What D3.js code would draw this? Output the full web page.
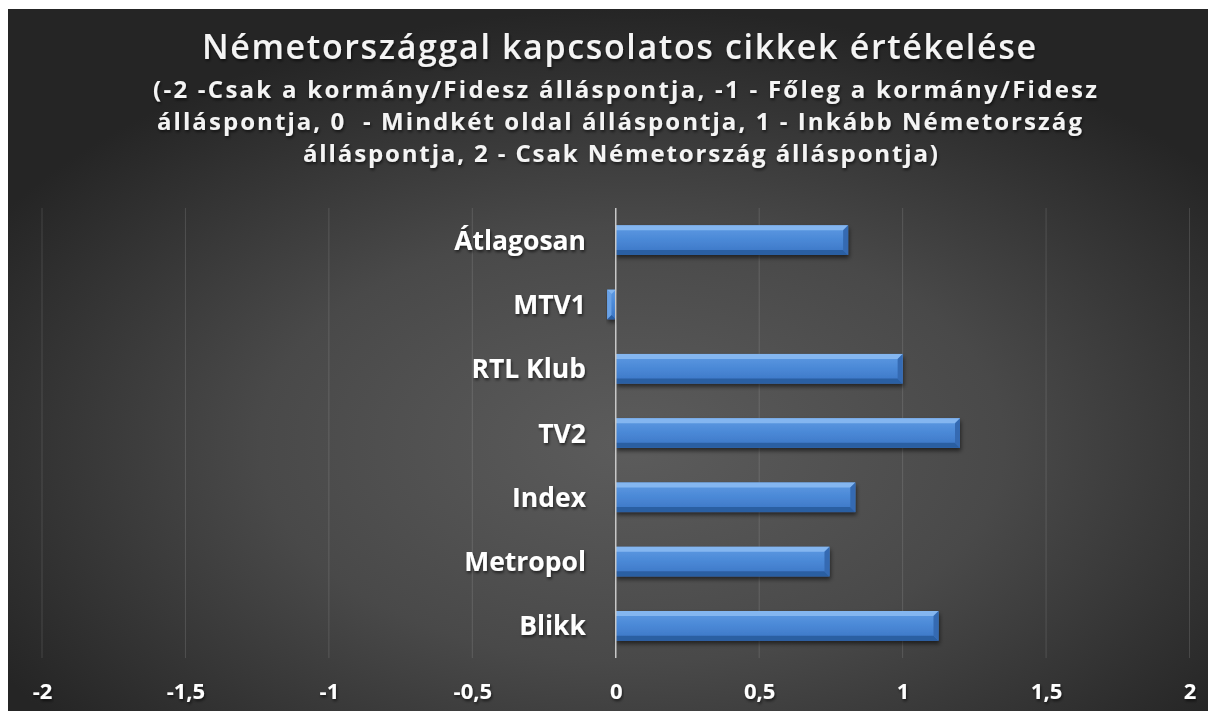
<!DOCTYPE html>
<html><head><meta charset="utf-8">
<script src="https://cdn.jsdelivr.net/npm/d3@7"></script>
<style>html,body{margin:0;padding:0;background:#fff;}svg{display:block;}</style>
</head><body>
<svg id="c" width="1208" height="711"></svg>
<script>
const categories = ["Átlagosan","MTV1","RTL Klub","TV2","Index","Metropol","Blikk"];
const values = [0.81,-0.03,1.0,1.2,0.835,0.745,1.125];
const tickValues = [-2,-1.5,-1,-0.5,0,0.5,1,1.5,2];
const title = "Németországgal kapcsolatos cikkek értékelése";
const subtitleLines = [
  "(-2 -Csak a kormány/Fidesz álláspontja, -1 - Főleg a kormány/Fidesz",
  "álláspontja, 0  - Mindkét oldal álláspontja, 1 - Inkább Németország",
  "álláspontja, 2 - Csak Németország álláspontja)"
];

const svg = d3.select("#c");
const defs = svg.append("defs");
const bg = defs.append("radialGradient").attr("id","bg")
  .attr("cx",0.52).attr("cy",0.62).attr("r",0.62);
bg.append("stop").attr("offset",0).attr("stop-color","#5c5c5c");
bg.append("stop").attr("offset",0.5).attr("stop-color","#494949");
bg.append("stop").attr("offset",1).attr("stop-color","#252525");

const bar = defs.append("linearGradient").attr("id","bar").attr("x1",0).attr("y1",0).attr("x2",0).attr("y2",1);
[[0,"#5e9ae3"],[0.5,"#4a88d6"],[1,"#3b75c4"]].forEach(s=>bar.append("stop").attr("offset",s[0]).attr("stop-color",s[1]));

const sh = defs.append("filter").attr("id","sh").attr("x","-10%").attr("y","-30%").attr("width","120%").attr("height","180%");
sh.append("feDropShadow").attr("dx",1).attr("dy",3).attr("stdDeviation",2).attr("flood-color","#000").attr("flood-opacity",0.55);
const tsh = defs.append("filter").attr("id","tsh").attr("x","-5%").attr("y","-30%").attr("width","110%").attr("height","160%");
tsh.append("feDropShadow").attr("dx",1).attr("dy",2).attr("stdDeviation",1.5).attr("flood-color","#000").attr("flood-opacity",0.6);

svg.append("rect").attr("x",8).attr("y",9).attr("width",1200).attr("height",702).attr("fill","url(#bg)");

const x = d3.scaleLinear().domain([-2,2]).range([42,1189.5]);
const y = d3.scaleBand().domain(categories).range([208,658]).paddingInner(0.54).paddingOuter(0.27);

// gridlines
svg.append("g").selectAll("line").data(tickValues.filter(d=>d!==0)).join("line")
  .attr("x1",d=>x(d)).attr("x2",d=>x(d)).attr("y1",208).attr("y2",658)
  .attr("stroke","#ffffff").attr("stroke-opacity",0.13).attr("stroke-width",1);

// bars
const g = svg.append("g");
const bb = g.selectAll("g").data(categories).join("g").attr("filter","url(#sh)");
bb.each(function(c,i){
  const v = values[i];
  const x0 = Math.min(x(0),x(v)), x1 = Math.max(x(0),x(v));
  const y0 = y(c), y1 = y(c)+y.bandwidth();
  const gg = d3.select(this);
  const b = Math.min(5, (x1-x0)/2);
  gg.append("rect").attr("x",x0).attr("y",y0).attr("width",x1-x0).attr("height",y1-y0).attr("fill","url(#bar)");
  gg.append("polygon").attr("points",[[x0,y0],[x1,y0],[x1-b,y0+b],[x0+(v<0?b:0),y0+b]].join(" ")).attr("fill","#84b6f0");
  gg.append("polygon").attr("points",[[x0,y1],[x1,y1],[x1-b,y1-b],[x0+(v<0?b:0),y1-b]].join(" ")).attr("fill","#2b5ea2");
  if(v>=0){
    gg.append("polygon").attr("points",[[x1,y0],[x1,y1],[x1-b,y1-b],[x1-b,y0+b]].join(" ")).attr("fill","#356bb2");
  } else {
    gg.append("polygon").attr("points",[[x0,y0],[x0,y1],[x0+b,y1-b],[x0+b,y0+b]].join(" ")).attr("fill","#6aa2e6");
  }
});

// zero line
svg.append("line").attr("x1",x(0)).attr("x2",x(0)).attr("y1",208).attr("y2",658)
  .attr("stroke","#c8c8c8").attr("stroke-width",1.5);

// x axis labels
const fmt = d => String(d).replace(".",",");
const xa = svg.append("g").attr("transform","translate(0,699)").call(d3.axisBottom(x).tickValues(tickValues).tickFormat(fmt).tickSize(0).tickPadding(0));
xa.select(".domain").remove();
xa.selectAll("text").attr("dy",0).attr("fill","#ffffff").attr("font-family","'Open Sans'").attr("font-weight",700).attr("font-size",22).attr("filter","url(#tsh)");

// y axis labels
const ya = svg.append("g").attr("transform","translate(586,0)").call(d3.axisLeft(y).tickSize(0).tickPadding(0));
ya.select(".domain").remove();
ya.selectAll("text").attr("dy","0.36em").attr("fill","#ffffff").attr("font-family","'Open Sans'").attr("font-weight",700).attr("font-size",26.5).attr("filter","url(#tsh)");

// titles
svg.append("text").attr("x",619).attr("y",59).attr("text-anchor","middle")
  .attr("font-family","'Open Sans'").attr("font-weight",600).attr("font-size",34).attr("fill","#f4f4f4")
  .attr("textLength",834).attr("lengthAdjust","spacing").attr("filter","url(#tsh)").text(title);
const subW = [944, 925, 635];
const subX = [625, 619.5, 620.5];
subtitleLines.forEach((t,i)=>{
  svg.append("text").attr("x",subX[i]).attr("y",98+i*32).attr("text-anchor","middle")
    .attr("font-family","'Open Sans'").attr("font-weight",700).attr("font-size",24).attr("fill","#f4f4f4")
    .attr("textLength",subW[i]).attr("lengthAdjust","spacing").attr("filter","url(#tsh)")
    .style("white-space","pre").text(t);
});
</script>
</body></html>
